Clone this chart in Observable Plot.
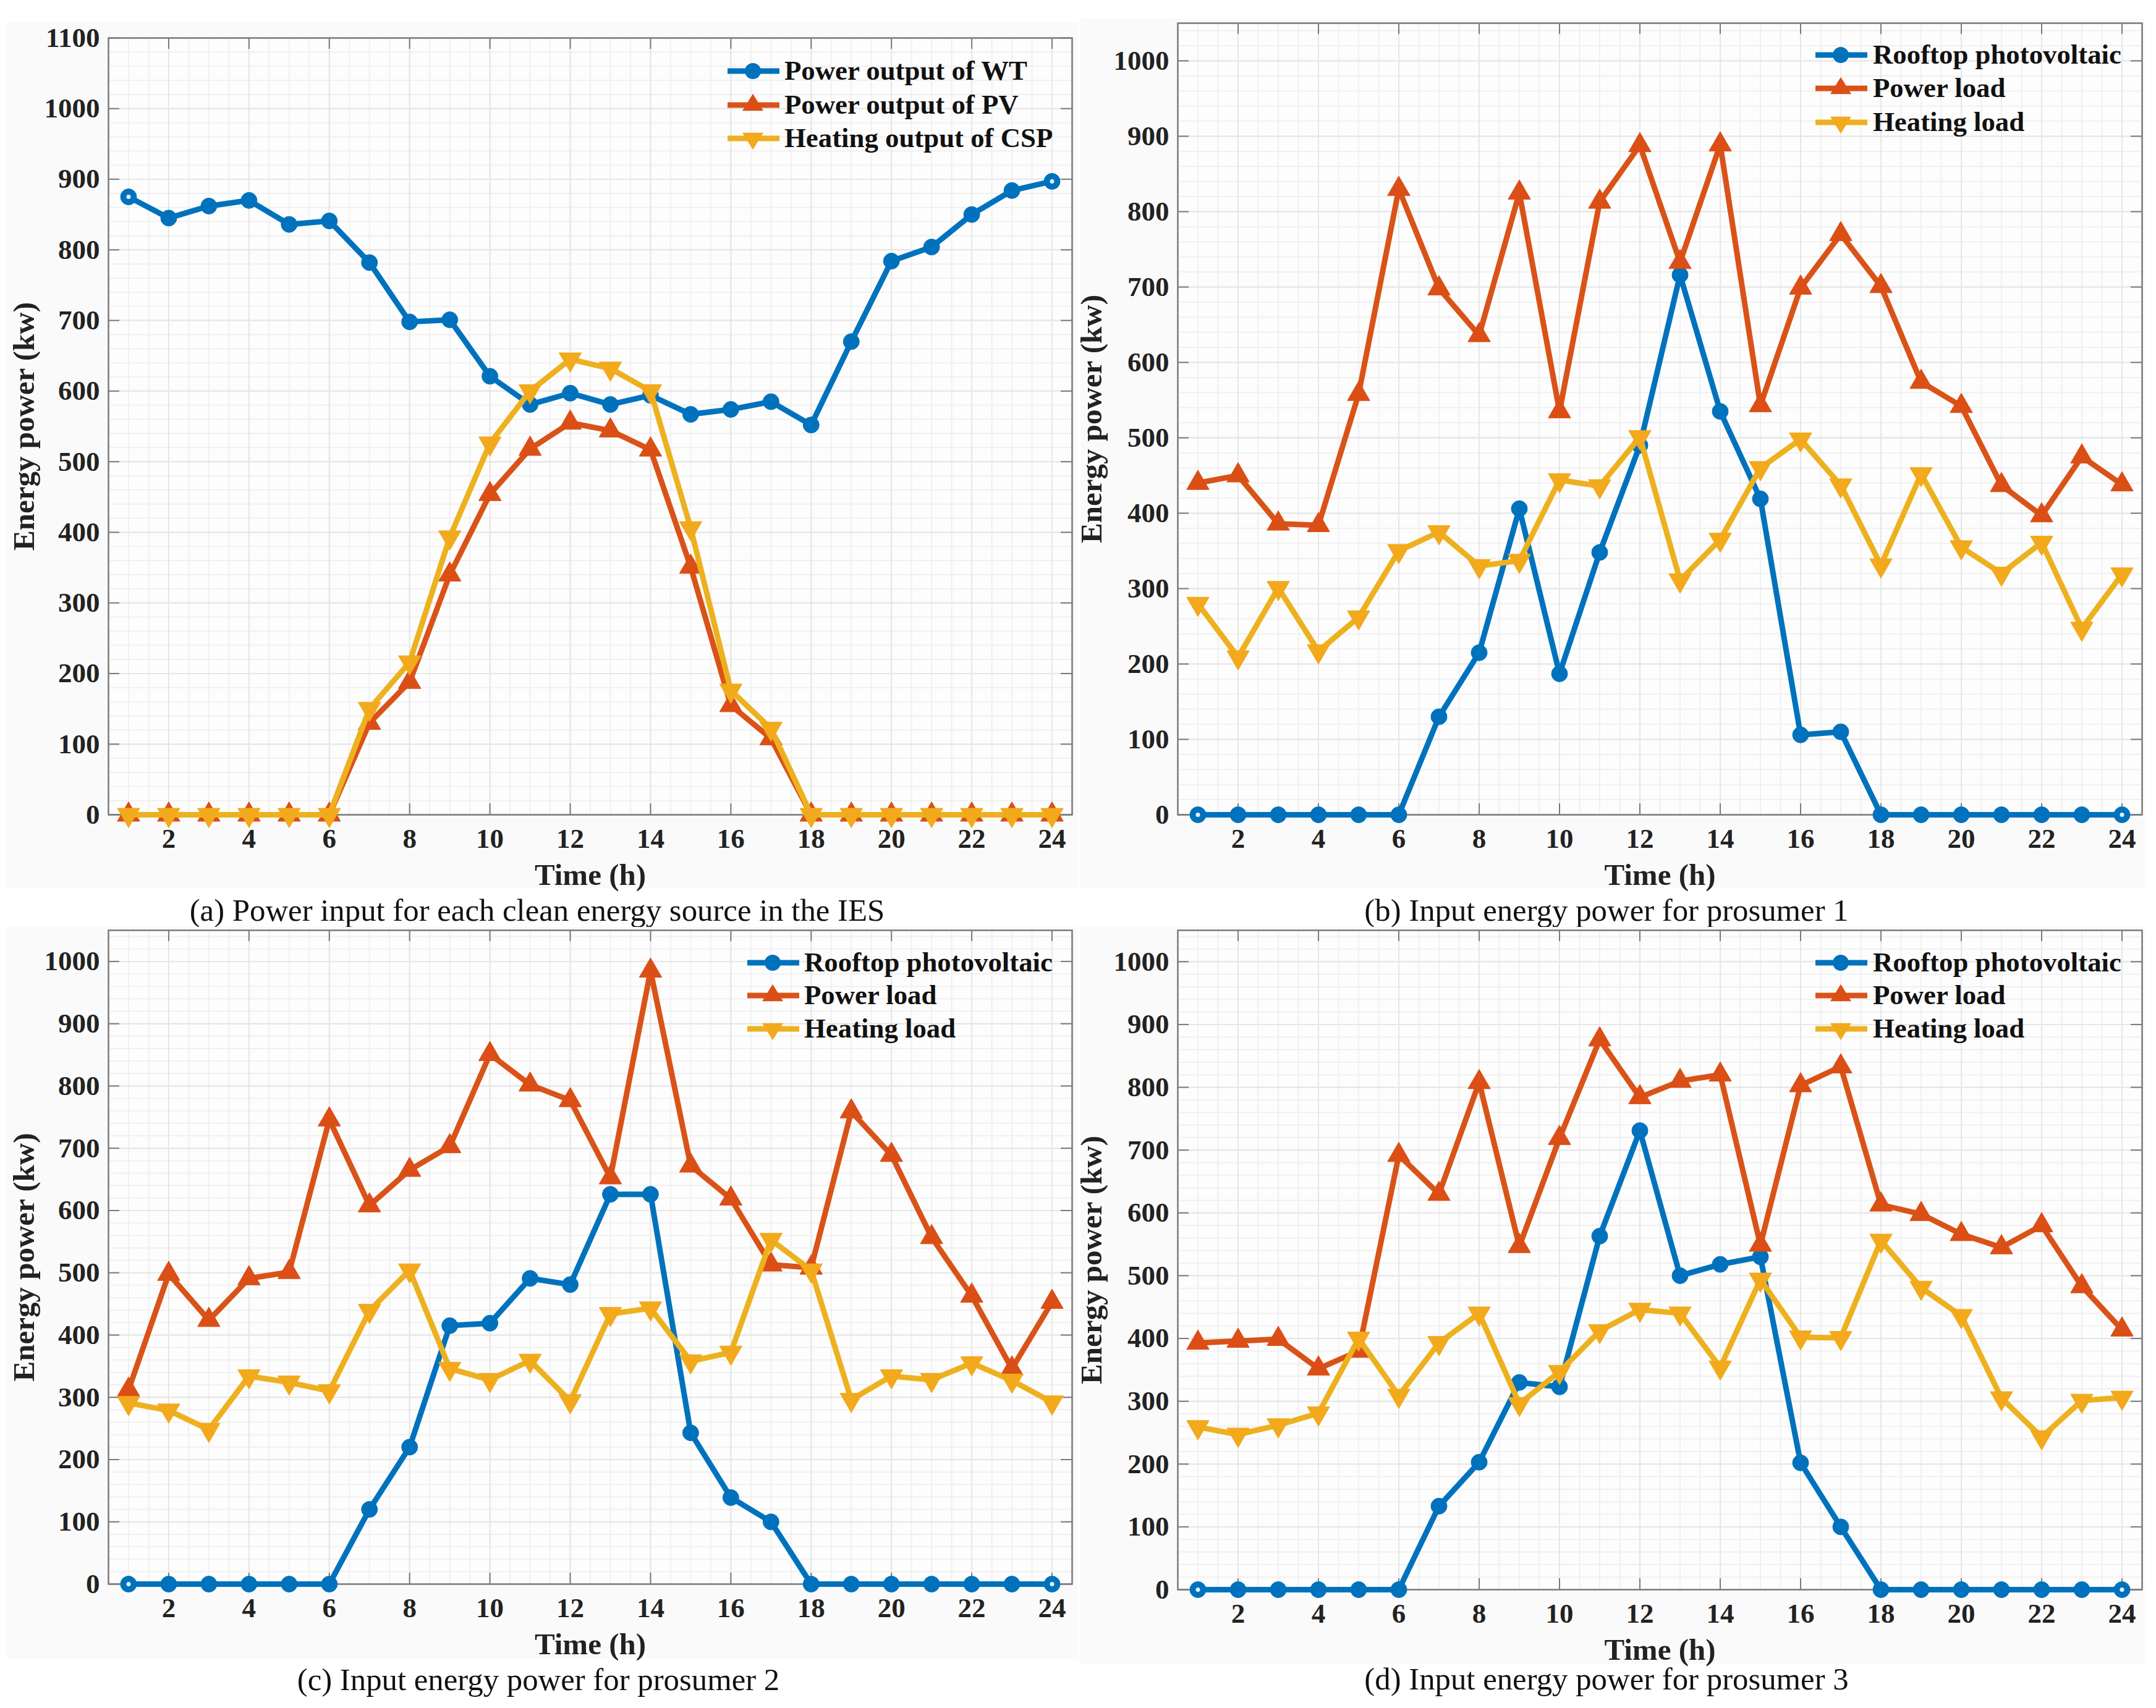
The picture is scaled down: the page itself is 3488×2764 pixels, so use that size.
<!DOCTYPE html>
<html>
<head>
<meta charset="utf-8">
<style>
  html, body { margin: 0; padding: 0; background: #fff; }
  #page { position: relative; width: 3488px; height: 2764px; overflow: hidden; font-family: "Liberation Serif", serif; }
  #page > .panel { position: absolute; }
  #page svg { display: block; }
  .caption { position: absolute; transform: translate(-50%, -50%); font-size: 50.8px; color: #111; white-space: nowrap; line-height: 1; }
  .row { position: absolute; left: 0; height: 0; white-space: nowrap; }
  .row svg { position: absolute; left: 0; top: -20px; overflow: visible; }
  .row span { position: absolute; top: -26px; font-size: 44.8px; font-weight: bold; line-height: 50px; color: #111; }
</style>
<script src="https://cdn.jsdelivr.net/npm/d3@7"></script>
<script src="https://cdn.jsdelivr.net/npm/@observablehq/plot@0.6"></script>
</head>
<body>
<div id="page"></div>
<script>
const hours = [1,2,3,4,5,6,7,8,9,10,11,12,13,14,15,16,17,18,19,20,21,22,23,24];
const xTickValues = [2,4,6,8,10,12,14,16,18,20,22,24];

const windOutput = [875,845,862,870,836,841,782,698,701,621,581,597,581,594,567,574,585,552,670,784,804,850,884,897];
const pvOutput   = [0,0,0,0,0,0,130,188,340,454,518,555,544,517,351,155,108,0,0,0,0,0,0,0];
const cspOutput  = [0,0,0,0,0,0,150,216,393,526,600,645,632,600,406,176,122,0,0,0,0,0,0,0];

const rooftop1 = [0,0,0,0,0,0,130,215,406,187,348,490,716,535,419,106,110,0,0,0,0,0,0,0];
const power1   = [440,450,386,384,558,830,698,636,825,535,813,888,733,889,543,699,770,701,574,542,437,397,475,438];
const heat1    = [280,209,301,217,262,350,375,330,337,444,436,501,311,365,460,498,437,331,452,355,320,361,247,319];

const rooftop2 = [0,0,0,0,0,0,120,220,415,419,491,481,626,626,243,139,100,0,0,0,0,0,0,0];
const power2   = [312,498,424,491,501,746,608,665,703,851,802,777,653,985,672,619,513,508,759,689,557,463,346,453];
const heat2    = [291,279,248,334,324,310,439,504,346,328,359,294,434,443,358,372,553,504,296,334,328,355,327,292];

const rooftop3 = [0,0,0,0,0,0,133,203,330,323,563,731,500,518,530,202,100,0,0,0,0,0,0,0];
const power3   = [393,396,399,352,380,692,630,808,547,719,876,784,810,820,549,803,833,613,598,566,545,580,483,414];
const heat3    = [259,247,262,281,400,309,393,440,296,347,412,446,440,354,494,402,401,556,481,436,305,243,301,306];

const legendA = ["Power output of WT","Power output of PV","Heating output of CSP"];
const legendB = ["Rooftop photovoltaic","Power load","Heating load"];
const captions = [
  "(a) Power input for each clean energy source in the IES",
  "(b) Input energy power for prosumer 1",
  "(c) Input energy power for prosumer 2",
  "(d) Input energy power for prosumer 3"
];

const lineColors = ["#0072BD","#D95319","#EDB120"];
const markColors = ["#0072BD","#DB4E16","#F2A91C"];
const invertedTriangle = {
  draw(ctx, size) {
    const y = Math.sqrt(size / (Math.sqrt(3) * 3));
    ctx.moveTo(0, y * 2);
    ctx.lineTo(-Math.sqrt(3) * y, -y);
    ctx.lineTo(Math.sqrt(3) * y, -y);
    ctx.closePath();
  }
};
const symbols = ["circle","triangle",invertedTriangle];
const radii = [13,13.5,13.5];

const panels = [
  {series:[windOutput,pvOutput,cspOutput], names:legendA, yMax:1100, yTicks:d3.range(0,1101,100), left:10, top:36, width:1734, height:1402, ml:165, mr:10, mt:25, mb:120, labelX:29, capX:869, capY:1473, legX:1177, textX:92, legY:[115,170,224]},
  {series:[rooftop1,power1,heat1], names:legendB, yMax:1050, yTicks:d3.range(0,1001,100), left:1748, top:30, width:1722, height:1406, ml:157, mr:5, mt:7, mb:118, labelX:18, capX:2599, capY:1473, legX:2937, textX:93, legY:[89,143,198]},
  {series:[rooftop2,power2,heat2], names:legendB, yMax:1050, yTicks:d3.range(0,1001,100), left:10, top:1500, width:1734, height:1184, ml:165, mr:10, mt:5, mb:121, labelX:29, capX:871, capY:2718, legX:1209, textX:92, legY:[1558,1611,1665]},
  {series:[rooftop3,power3,heat3], names:legendB, yMax:1050, yTicks:d3.range(0,1001,100), left:1748, top:1500, width:1722, height:1192, ml:157, mr:5, mt:5, mb:120, labelX:18, capX:2599, capY:2717, legX:2937, textX:93, legY:[1558,1611,1665]}
];

const page = document.getElementById("page");
const axisInk = "#7a7a7a";
const textInk = "#222";
const tickLen = 18;

panels.forEach((p, pi) => {
  const plotW = p.width - p.ml - p.mr;
  const plotH = p.height - p.mt - p.mb;
  const tables = p.series.map(vals => hours.map((h, i) => ({h, v: vals[i]})));
  const minorX = d3.range(0.5, 24.6, 0.5);
  const minorY = d3.range(0, p.yMax + 1, 20);

  const chart = Plot.plot({
    width: p.width, height: p.height,
    marginLeft: p.ml, marginRight: p.mr, marginTop: p.mt, marginBottom: p.mb,
    x: {domain: [0.5, 24.5], label: null},
    y: {domain: [0, p.yMax], label: null},
    style: {background: "#fafafa", fontFamily: "Liberation Serif, serif", overflow: "visible"},
    marks: [
      Plot.frame({fill: "#fdfdfd", stroke: null}),
      Plot.ruleX(minorX, {x: d => d, stroke: "#f0f0f0", strokeWidth: 2}),
      Plot.ruleY(minorY, {y: d => d, stroke: "#f0f0f0", strokeWidth: 2}),
      Plot.ruleX(xTickValues, {x: d => d, stroke: "#e6e6e6", strokeWidth: 2}),
      Plot.ruleY(p.yTicks, {y: d => d, stroke: "#e6e6e6", strokeWidth: 2}),
      Plot.tickX(xTickValues, {x: d => d, insetTop: plotH - tickLen, stroke: axisInk, strokeWidth: 2}),
      Plot.tickX(xTickValues, {x: d => d, insetBottom: plotH - tickLen, stroke: axisInk, strokeWidth: 2}),
      Plot.tickY(p.yTicks, {y: d => d, insetRight: plotW - tickLen, stroke: axisInk, strokeWidth: 2}),
      Plot.tickY(p.yTicks, {y: d => d, insetLeft: plotW - tickLen, stroke: axisInk, strokeWidth: 2}),
      Plot.frame({stroke: axisInk, strokeWidth: 2.5}),
      Plot.axisX(xTickValues, {anchor: "bottom", tickSize: 0, tickPadding: 22, fontSize: 45, fontWeight: "bold", fill: textInk, label: null, tickFormat: d => String(d)}),
      Plot.axisY(p.yTicks, {anchor: "left", tickSize: 0, tickPadding: 14, fontSize: 45, fontWeight: "bold", fill: textInk, label: null, tickFormat: d => String(d)}),
      Plot.text(["Time (h)"], {frameAnchor: "bottom", lineAnchor: "middle", dy: 98, fontSize: 49, fontWeight: "bold", fill: textInk}),
      Plot.text(["Energy power (kw)"], {frameAnchor: "left", textAnchor: "middle", lineAnchor: "middle", rotate: -90, dx: -(p.ml - p.labelX), fontSize: 49, fontWeight: "bold", fill: textInk}),
      ...tables.flatMap((t, i) => [
        Plot.line(t, {x: "h", y: "v", stroke: lineColors[i], strokeWidth: 9, strokeLinejoin: "round"}),
        Plot.dot(t, {x: "h", y: "v", r: radii[i], symbol: symbols[i], fill: markColors[i], stroke: markColors[i], strokeWidth: 1})
      ]),
      Plot.dot([tables[0][0], tables[0][23]], {x: "h", y: "v", r: 3.5, fill: "#e4f1fa"})
    ]
  });
  const wrap = document.createElement("div");
  wrap.className = "panel";
  wrap.style.left = p.left + "px";
  wrap.style.top = p.top + "px";
  wrap.appendChild(chart);
  page.appendChild(wrap);

  const cap = document.createElement("div");
  cap.className = "caption";
  cap.style.left = p.capX + "px";
  cap.style.top = p.capY + "px";
  cap.textContent = captions[pi];
  page.appendChild(cap);

  p.names.forEach((name, i) => {
    const row = document.createElement("div");
    row.className = "row";
    row.style.left = p.legX + "px";
    row.style.top = p.legY[i] + "px";
    const cy = 20, cx = 41;
    const r = radii[i];
    let shape;
    if (i === 0) shape = `<circle cx="${cx}" cy="${cy}" r="${r}" fill="${markColors[i]}"/>`;
    else if (i === 1) shape = `<polygon points="${cx},${cy - r * 1.35} ${cx - 17},${cy + r * 0.68} ${cx + 17},${cy + r * 0.68}" fill="${markColors[i]}"/>`;
    else shape = `<polygon points="${cx},${cy + r * 1.35} ${cx - 17},${cy - r * 0.68} ${cx + 17},${cy - r * 0.68}" fill="${markColors[i]}"/>`;
    row.innerHTML = `<svg width="84" height="40"><line x1="0" x2="84" y1="${cy}" y2="${cy}" stroke="${lineColors[i]}" stroke-width="9"/>${shape}</svg><span style="left:${p.textX}px">${name}</span>`;
    page.appendChild(row);
  });
});
</script>
</body>
</html>
